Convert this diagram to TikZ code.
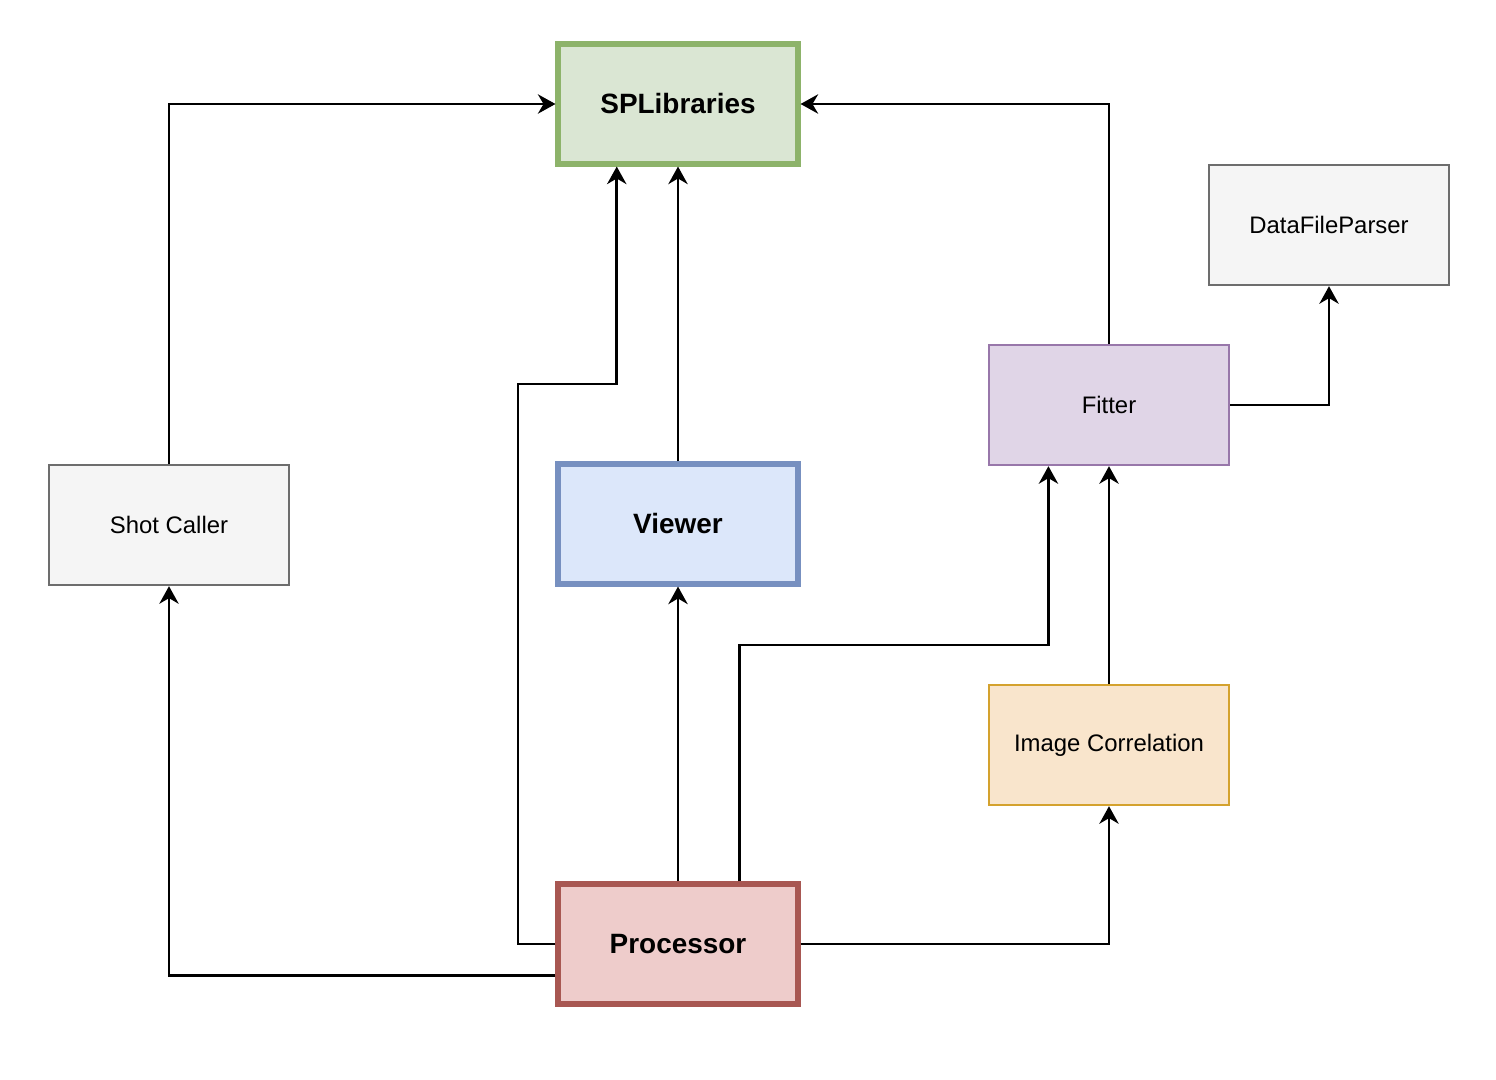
\documentclass[tikz,border=0pt]{standalone}
\usepackage{fontspec}
\setmainfont{Liberation Sans}
\usetikzlibrary{arrows.meta,calc}
\definecolor{gfill}{HTML}{DAE6D3}
\definecolor{gline}{HTML}{8DB36A}
\definecolor{bfill}{HTML}{DCE7FA}
\definecolor{bline}{HTML}{7790C0}
\definecolor{rfill}{HTML}{EECCCB}
\definecolor{rline}{HTML}{A85752}
\definecolor{pfill}{HTML}{E0D5E7}
\definecolor{pline}{HTML}{9877AA}
\definecolor{ofill}{HTML}{F9E5CC}
\definecolor{oline}{HTML}{D4A22E}
\definecolor{kfill}{HTML}{F5F5F5}
\definecolor{kline}{HTML}{6D6D6D}
\tikzset{
  box/.style={rectangle, minimum width=4.8cm, minimum height=2.4cm, inner sep=0pt,
    line width=1.35pt, font=\fontsize{13.6pt}{16pt}\selectfont},
  thickbox/.style={box, line width=2.9pt, font=\fontsize{15.9pt}{18pt}\selectfont\bfseries},
  conn/.style={draw=black, line width=1.45pt, -{Stealth[length=10pt,width=11pt,inset=3.2pt]}}
}
\begin{document}
\begin{tikzpicture}[x=0.02cm,y=-0.02cm]
\useasboundingbox (0,0) rectangle (1496,1079);
\node[thickbox, fill=gfill, draw=gline] (spl) at (678,104) {SPLibraries};
\node[box, fill=kfill, draw=kline] (dfp) at (1329,225) {DataFileParser};
\node[box, fill=pfill, draw=pline] (fit) at (1109,405) {Fitter};
\node[box, fill=kfill, draw=kline] (shot) at (169,525) {Shot Caller};
\node[thickbox, fill=bfill, draw=bline] (view) at (678,524) {Viewer};
\node[box, fill=ofill, draw=oline] (ic) at (1109,745) {Image Correlation};
\node[thickbox, fill=rfill, draw=rline] (proc) at (678,944) {Processor};

\coordinate (splq) at ($(spl.south west)!0.25!(spl.south east)$);
\coordinate (fitq) at ($(fit.south west)!0.25!(fit.south east)$);
\coordinate (procq) at ($(proc.north west)!0.75!(proc.north east)$);
\coordinate (procl) at ($(proc.north west)!0.75!(proc.south west)$);
\coordinate (b1) at (518,384);
\coordinate (b2) at (fitq |- 0,645);

\draw[conn] (shot.north) |- (spl.west);
\draw[conn] (fit.north) |- (spl.east);
\draw[conn] (view.north) -- (spl.south);
\draw[conn] (proc.west) -| (b1) -| (splq);
\draw[conn] (proc.north) -- (view.south);
\draw[conn] (procq) |- (b2) -- (fitq);
\draw[conn] (ic.north) -- (fit.south);
\draw[conn] (proc.east) -| (ic.south);
\draw[conn] (procl) -| (shot.south);
\draw[conn] (fit.east) -| (dfp.south);
\end{tikzpicture}
\end{document}
